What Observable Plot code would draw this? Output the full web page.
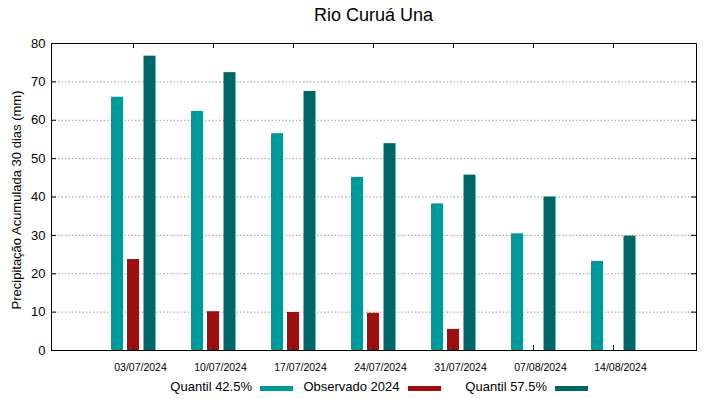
<!DOCTYPE html>
<html>
<head>
<meta charset="utf-8">
<script src="https://cdn.jsdelivr.net/npm/d3@7"></script>
<script src="https://cdn.jsdelivr.net/npm/@observablehq/plot@0.6"></script>
<style>
  html, body { margin: 0; padding: 0; background: #fff; }
  #wrap { position: relative; width: 719px; height: 399px; overflow: hidden;
          font-family: "Liberation Sans", Arial, sans-serif; color: #000; }
  #chart { position: absolute; left: 0; top: 0; }
  #title { position: absolute; left: 51px; width: 645px; top: 6px; text-align: center;
           font-size: 18px; line-height: 18px; }
  .legend-item { position: absolute; top: 380px; height: 13px; display: flex; align-items: flex-start; }
  .legend-item .lbl { width: 105px; text-align: right; font-size: 13px; line-height: 13px; white-space: nowrap; }
  .legend-item .sw { width: 33px; height: 5px; margin-left: 8px; margin-top: 6px; }
</style>
</head>
<body>
<div id="wrap">
  <div id="chart"></div>
  <div id="title"></div>
</div>
<script>
const chartTitle = "Rio Curuá Una";
const yLabel = "Precipitação Acumulada 30 dias (mm)";
const dates = ["03/07/2024", "10/07/2024", "17/07/2024", "24/07/2024", "31/07/2024", "07/08/2024", "14/08/2024"];
const quantil425 = [66.0, 62.3, 56.5, 45.1, 38.2, 30.4, 23.2];
const observado2024 = [23.7, 10.1, 9.9, 9.7, 5.5, null, null];
const quantil575 = [76.7, 72.4, 67.5, 53.9, 45.7, 40.0, 29.8];
const yTicks = [0, 10, 20, 30, 40, 50, 60, 70, 80];
const gridTicks = [10, 20, 30, 40, 50, 60, 70];
const seriesNames = ["Quantil 42.5%", "Observado 2024", "Quantil 57.5%"];
const seriesColors = ["#009999", "#9b1010", "#006666"];

const rows = dates.map((d, i) => ({date: d, q425: quantil425[i], obs: observado2024[i], q575: quantil575[i]}));

const font = '"Liberation Sans", Arial, sans-serif';

const plot = Plot.plot({
  width: 719,
  height: 399,
  marginTop: 43,
  marginBottom: 49,
  marginLeft: 51,
  marginRight: 23,
  style: {fontFamily: font, background: "white", color: "#000", overflow: "visible"},
  x: {type: "band", domain: dates, paddingInner: 0.845, paddingOuter: 0.9225, axis: null},
  y: {domain: [0, 80], axis: null},
  marks: [
    Plot.gridY(gridTicks, {stroke: "#999", strokeOpacity: 1, strokeDasharray: "1.5,2"}),
    Plot.barY(rows, {x: "date", y: "q425", fill: seriesColors[0], dx: -16}),
    Plot.barY(rows, {x: "date", y: "obs", fill: seriesColors[1], dx: 0}),
    Plot.barY(rows, {x: "date", y: "q575", fill: seriesColors[2], dx: 16.5}),
    Plot.tickX(dates, {x: d => d, insetTop: 302, stroke: "#000"}),
    Plot.tickX(dates, {x: d => d, insetBottom: 302, stroke: "#000"}),
    Plot.tickY(yTicks, {y: d => d, insetRight: 640, stroke: "#000"}),
    Plot.tickY(yTicks, {y: d => d, insetLeft: 640, stroke: "#000"}),
    Plot.frame({stroke: "#000", strokeWidth: 1}),
    Plot.axisX({tickSize: 0, tickPadding: 13, fontSize: 10.5, dx: 7, label: null, fill: "#000"}),
    Plot.axisY(yTicks, {tickSize: 0, tickPadding: 6, fontSize: 13, label: null, fill: "#000"}),
    Plot.text([yLabel], {frameAnchor: "left", textAnchor: "middle", lineAnchor: "middle", rotate: -90, dx: -35, dy: 3, fontSize: 13, fill: "#000"})
  ]
});

document.getElementById("chart").appendChild(plot);
document.getElementById("title").textContent = chartTitle;

const wrap = document.getElementById("wrap");
const legendLefts = [147, 294.5, 442];
seriesNames.forEach((name, i) => {
  const item = document.createElement("div");
  item.className = "legend-item";
  item.style.left = legendLefts[i] + "px";
  const lbl = document.createElement("span");
  lbl.className = "lbl";
  lbl.textContent = name;
  const sw = document.createElement("span");
  sw.className = "sw";
  sw.style.background = seriesColors[i];
  item.appendChild(lbl);
  item.appendChild(sw);
  wrap.appendChild(item);
});
</script>
</body>
</html>
